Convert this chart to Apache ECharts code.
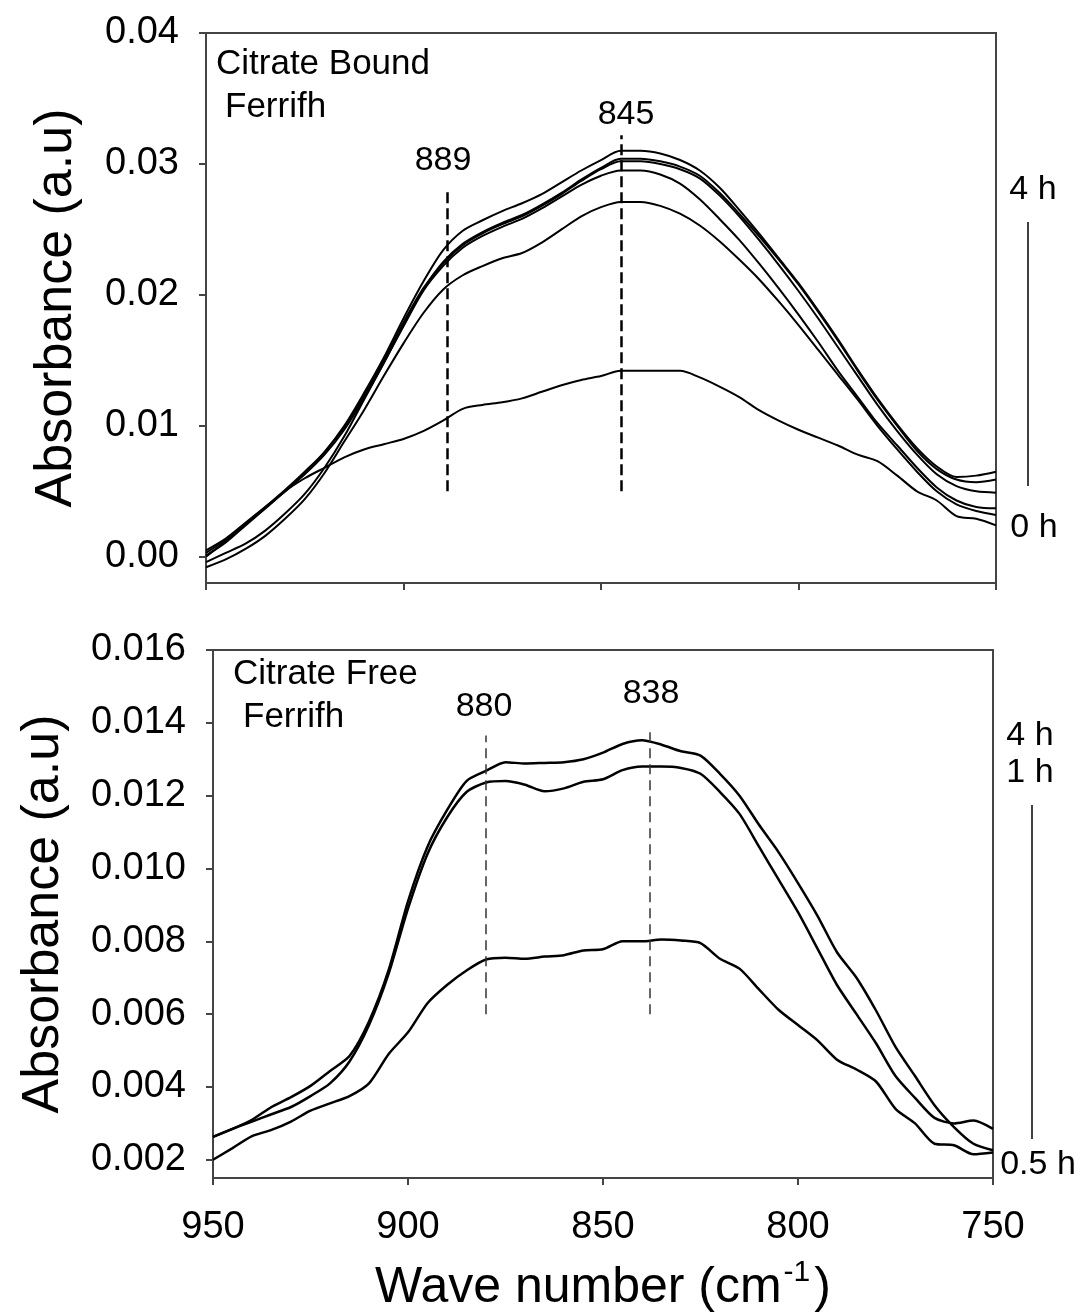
<!DOCTYPE html>
<html><head><meta charset="utf-8">
<script src="https://cdn.jsdelivr.net/npm/echarts@6/dist/echarts.min.js"></script>
<style>html,body{margin:0;padding:0;background:#fff}#c{width:1082px;height:1314px}</style>
</head><body><div id="c"></div>
<script>
// Wave numbers (cm-1), shared by both panels
const waveNumbers = [950,945,940,935,930,925,920,915,910,905,900,895,890,885,880,875,870,865,860,855,850,845,840,835,830,825,820,815,810,805,800,795,790,785,780,775,770,765,760,755,750];

// Top panel: Citrate Bound Ferrifh (0 h ... 4 h)
const bound0h = [0.0003,0.0013,0.0025,0.0037,0.0050,0.0060,0.0068,0.0076,0.0082,0.0086,0.0090,0.0096,0.0104,0.0113,0.0116,0.0118,0.0121,0.0126,0.0131,0.0135,0.0138,0.0142,0.0142,0.0142,0.0142,0.0137,0.0130,0.0122,0.0112,0.0104,0.0097,0.0091,0.0085,0.0078,0.0073,0.0062,0.0050,0.0043,0.0031,0.0029,0.0024];
const boundE = [-0.0008,-0.0002,0.0006,0.0016,0.0029,0.0044,0.0064,0.0088,0.0112,0.0138,0.0163,0.0186,0.0204,0.0215,0.0222,0.0228,0.0232,0.0240,0.0250,0.0260,0.0267,0.0271,0.0271,0.0268,0.0262,0.0253,0.0241,0.0227,0.0212,0.0195,0.0177,0.0158,0.0139,0.0120,0.0100,0.0082,0.0065,0.0050,0.0040,0.0035,0.0032];
const boundD = [-0.0004,0.0003,0.0010,0.0020,0.0033,0.0048,0.0068,0.0092,0.0120,0.0148,0.0176,0.0203,0.0222,0.0236,0.0245,0.0252,0.0258,0.0266,0.0275,0.0284,0.0291,0.0295,0.0295,0.0292,0.0285,0.0273,0.0258,0.0242,0.0224,0.0205,0.0185,0.0164,0.0142,0.0122,0.0102,0.0085,0.0068,0.0053,0.0043,0.0038,0.0037];
const boundC = [0.0001,0.0011,0.0024,0.0037,0.0050,0.0064,0.0080,0.0099,0.0123,0.0150,0.0179,0.0205,0.0224,0.0238,0.0247,0.0254,0.0260,0.0268,0.0277,0.0287,0.0296,0.0302,0.0302,0.0300,0.0296,0.0289,0.0276,0.0260,0.0242,0.0223,0.0203,0.0182,0.0160,0.0138,0.0116,0.0096,0.0078,0.0063,0.0054,0.0050,0.0049];
const boundB = [0.0005,0.0014,0.0026,0.0038,0.0050,0.0063,0.0078,0.0097,0.0121,0.0148,0.0177,0.0204,0.0225,0.0239,0.0248,0.0255,0.0261,0.0269,0.0278,0.0288,0.0297,0.0304,0.0304,0.0302,0.0298,0.0291,0.0278,0.0262,0.0245,0.0227,0.0208,0.0187,0.0165,0.0142,0.0120,0.0100,0.0081,0.0067,0.0059,0.0057,0.0059];
const boundA = [0.0000,0.0012,0.0025,0.0038,0.0051,0.0065,0.0080,0.0100,0.0125,0.0152,0.0182,0.0210,0.0234,0.0249,0.0257,0.0264,0.0270,0.0277,0.0286,0.0295,0.0303,0.0310,0.0310,0.0308,0.0303,0.0295,0.0282,0.0265,0.0247,0.0228,0.0209,0.0188,0.0166,0.0143,0.0121,0.0101,0.0083,0.0069,0.0061,0.0062,0.0065];

// Bottom panel: Citrate Free Ferrifh
const free05h = [0.00200,0.00232,0.00265,0.00282,0.00305,0.00335,0.00355,0.00375,0.00410,0.00490,0.00550,0.00630,0.00680,0.00720,0.00750,0.00755,0.00752,0.00758,0.00762,0.00775,0.00778,0.00800,0.00800,0.00805,0.00802,0.00795,0.00752,0.00725,0.00668,0.00612,0.00570,0.00528,0.00475,0.00448,0.00415,0.00340,0.00300,0.00244,0.00240,0.00215,0.00220];
const free1h = [0.00263,0.00285,0.00305,0.00325,0.00345,0.00375,0.00410,0.00470,0.00570,0.00710,0.00890,0.01040,0.01140,0.01210,0.01236,0.01240,0.01230,0.01212,0.01220,0.01238,0.01245,0.01270,0.01280,0.01280,0.01276,0.01260,0.01210,0.01150,0.01060,0.00970,0.00880,0.00780,0.00680,0.00600,0.00520,0.00430,0.00370,0.00315,0.00300,0.00308,0.00285];
const free4h = [0.00263,0.00285,0.00310,0.00345,0.00372,0.00403,0.00444,0.00485,0.00580,0.00720,0.00910,0.01060,0.01160,0.01240,0.01268,0.01292,0.01288,0.01290,0.01292,0.01300,0.01318,0.01342,0.01352,0.01340,0.01322,0.01310,0.01260,0.01200,0.01120,0.01045,0.00960,0.00870,0.00770,0.00700,0.00610,0.00510,0.00430,0.00350,0.00290,0.00244,0.00226];

// Axis tick labels
const waveTicks = [950,900,850,800,750];
const topAbsTicks = [0,0.01,0.02,0.03,0.04];
const bottomAbsTicks = [0.002,0.004,0.006,0.008,0.010,0.012,0.014,0.016];

// Peak marker lines
const topPeaks = [{wave:889, from:0.005, to:0.0281}, {wave:845, from:0.005, to:0.0322}];
const bottomPeaks = [{wave:880, from:0.0060, to:0.01365}, {wave:838, from:0.0060, to:0.01383}];

const FONT = "'Liberation Sans', Arial, sans-serif";
const AXC = '#444';

function mkSeries(name, values, idx, width, smooth) {
  return {
    name, type:'line', xAxisIndex:idx, yAxisIndex:idx,
    data: waveNumbers.map((w,i)=>[w, values[i]]),
    symbol:'none', smooth, silent:true,
    lineStyle:{color:'#000', width}, itemStyle:{color:'#000'}
  };
}
function mkMark(peaks, style) {
  return {silent:true, symbol:['none','none'], label:{show:false}, lineStyle:style,
    data: peaks.map(p=>[{coord:[p.wave,p.from]},{coord:[p.wave,p.to]}])};
}

const topSeries = [bound0h, boundE, boundD, boundC, boundB, boundA].map((v,i)=>mkSeries('bound'+i, v, 0, 2, 0.3));
topSeries[0].markLine = mkMark(topPeaks, {color:'#000', width:2.5, type:[11,5]});
const botSeries = [free05h, free1h, free4h].map((v,i)=>mkSeries('free'+i, v, 1, 2.5, 0.25));
botSeries[0].markLine = mkMark(bottomPeaks, {color:'#333', width:1.5, type:[10,6]});

function xAx(idx, showLabels) {
  return {
    type:'value', gridIndex:idx, min:750, max:950, interval:50, inverse:true,
    axisLine:{show:true, onZero:false, lineStyle:{color:AXC, width:2}},
    axisTick:{show:true, length:7, customValues:waveTicks, lineStyle:{color:AXC, width:2}},
    axisLabel:{show:showLabels, customValues:waveTicks, fontSize:38, color:'#000', fontFamily:FONT, margin:31},
    splitLine:{show:false},
    name: showLabels ? '{n|Wave number (cm}{s|-1}{n|)}' : '',
    nameLocation:'middle', nameGap:80,
    nameTextStyle:{rich:{n:{fontSize:50, fontFamily:FONT, color:'#000', lineHeight:60}, s:{fontSize:30, fontFamily:FONT, color:'#000', verticalAlign:'top', lineHeight:60, padding:[0,4,0,2]}}}
  };
}
function yAx(idx, min, max, ticks, dec, gap) {
  return {
    type:'value', gridIndex:idx, min, max,
    axisLine:{show:true, onZero:false, lineStyle:{color:AXC, width:2}},
    axisTick:{show:true, length:7, customValues:ticks, lineStyle:{color:AXC, width:2}},
    axisLabel:{customValues:ticks, fontSize:38, color:'#000', fontFamily:FONT, margin:27, formatter:v=>v.toFixed(dec)},
    splitLine:{show:false},
    name:'Absorbance (a.u)', nameLocation:'middle', nameRotate:90, nameGap:gap,
    nameTextStyle:{fontSize:52, fontFamily:FONT, color:'#000'}
  };
}

function txt(x, y, s, size, align) {
  return {type:'text', x, y, style:{text:s, fontSize:size, fontFamily:FONT, fill:'#000', align:align||'center', verticalAlign:'middle'}};
}

const chart = echarts.init(document.getElementById('c'), null, {renderer:'canvas'});
chart.setOption({
  animation:false,
  backgroundColor:'#fff',
  grid:[
    {left:206, top:33, width:790, height:550, show:true, borderColor:AXC, borderWidth:2, containLabel:false},
    {left:213, top:650, width:780, height:531, show:true, borderColor:AXC, borderWidth:2, containLabel:false}
  ],
  xAxis:[xAx(0,false), xAx(1,true)],
  yAxis:[yAx(0,-0.002,0.04,topAbsTicks,2,123), yAx(1,0.0015,0.016,bottomAbsTicks,3,143)],
  series: topSeries.concat(botSeries),
  graphic:[
    txt(216, 64, 'Citrate Bound', 35, 'left'),
    txt(225, 107, 'Ferrifh', 35, 'left'),
    txt(443, 161, '889', 34),
    txt(626, 115, '845', 34),
    txt(1033, 190, '4 h', 34),
    {type:'line', shape:{x1:1028, y1:222, x2:1028, y2:486}, style:{stroke:'#000', lineWidth:1.5}},
    txt(1034, 528, '0 h', 34),
    txt(233, 674, 'Citrate Free', 35, 'left'),
    txt(243, 717, 'Ferrifh', 35, 'left'),
    txt(484, 707, '880', 34),
    txt(651, 694, '838', 34),
    txt(1030, 736, '4 h', 34),
    txt(1030, 773, '1 h', 34),
    {type:'line', shape:{x1:1032, y1:805, x2:1032, y2:1139}, style:{stroke:'#000', lineWidth:1.5}},
    txt(1038, 1165, '0.5 h', 34)
  ]
});
</script></body></html>
